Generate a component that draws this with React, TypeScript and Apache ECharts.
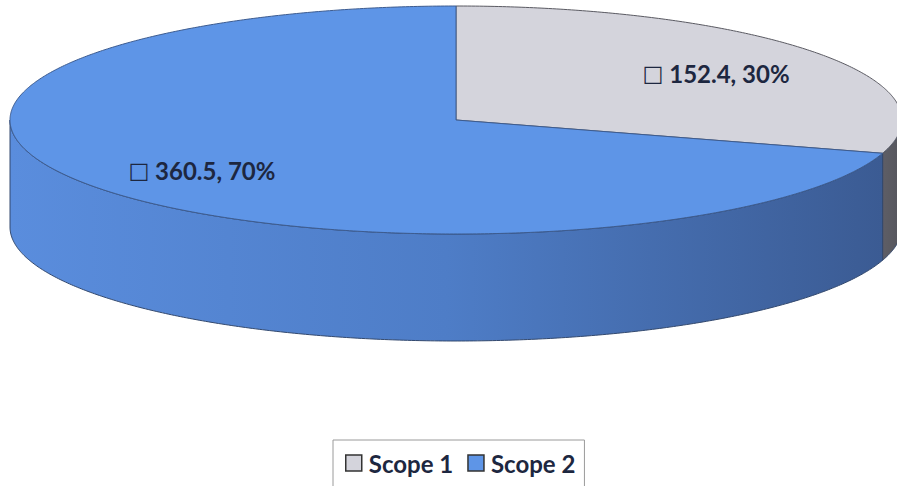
import React, { useEffect, useRef } from "react";
import * as echarts from "echarts";

const categories = ["Scope 1", "Scope 2"];
const values = [152.4, 360.5];
const topColors = ["#D4D4DC", "#5E95E7"];
const sideColors = [
  ["#5E5E66", "#55555C"],
  ["#5A8DDD", "#4E7DC7", "#3B5B93"],
];

const total = values.reduce((a, b) => a + b, 0);

export default function App() {
  const ref = useRef<HTMLDivElement>(null);
  useEffect(() => {
    if (!ref.current) return;
    const chart = echarts.init(ref.current, undefined, { renderer: "svg" });
    const CX = 456, CY = 120, RX = 446, RY = 114, DEPTH = 107;
    const pt = (deg: number, f = 1, dy = 0) => {
      const r = (deg * Math.PI) / 180;
      return [CX + RX * f * Math.sin(r), CY - RY * f * Math.cos(r) + dy];
    };
    const arc = (a0: number, a1: number, dy = 0) => {
      const pts: number[][] = [];
      const n = Math.max(2, Math.ceil(Math.abs(a1 - a0) / 0.5));
      for (let i = 0; i <= n; i++) pts.push(pt(a0 + ((a1 - a0) * i) / n, 1, dy));
      return pts;
    };
    const series = categories.map((name, idx) => {
      const before = values.slice(0, idx).reduce((a, b) => a + b, 0);
      return {
        type: "custom",
        name,
        coordinateSystem: "none",
        itemStyle: { color: topColors[idx] },
        data: [[values[idx]]],
        renderItem: (params: any, api: any) => {
          const v = api.value(0);
          const a0 = (before / total) * 360;
          const a1 = ((before + v) / total) * 360;
          const children: any[] = [];
          const s0 = Math.max(a0, 90), s1 = Math.min(a1, 270);
          if (s1 > s0) {
            const top = arc(s0, s1);
            const bot = arc(s0, s1, DEPTH).reverse();
            const cs = sideColors[idx];
            children.push({
              type: "polygon",
              shape: { points: top.concat(bot) },
              style: {
                fill: new echarts.graphic.LinearGradient(
                  0, 0, 1, 0,
                  cs.map((c, i) => ({ offset: i / (cs.length - 1), color: c }))
                ),
                stroke: "#33496e",
                lineWidth: 1,
              },
            });
          }
          const topPts = [[CX, CY]].concat(arc(a0, a1));
          children.push({
            type: "polygon",
            shape: { points: topPts },
            style: {
              fill: topColors[idx],
              stroke: idx === 0 ? "#5a5a62" : "#3d5c90",
              lineWidth: 1,
            },
          });
          const mid = (a0 + a1) / 2;
          const lp = pt(mid, 0.72);
          const pct = Math.round((v / total) * 100);
          children.push({
            type: "text",
            x: lp[0] + (idx === 1 ? 4 : 2),
            y: lp[1] + 2,
            style: {
              text: "{b|□} " + v.toFixed(1) + ", " + pct + "%",
              rich: {
                b: {
                  fontFamily: "DejaVu Sans",
                  fontWeight: "bold",
                  fontSize: 22,
                  fill: "#1d2740",
                },
              },
              fontFamily: "Lato",
              fontWeight: "bold",
              fontSize: 24,
              fill: "#1d2740",
              align: "center",
              verticalAlign: "middle",
            },
          });
          return { type: "group", children };
        },
      };
    });
    chart.setOption({
      animation: false,
      legend: {
        data: categories,
        top: 440,
        left: 333,
        orient: "horizontal",
        icon: "rect",
        itemWidth: 16,
        itemHeight: 16,
        itemGap: 14,
        padding: [11, 9, 14, 12],
        borderColor: "#9a9a9a",
        borderWidth: 1,
        itemStyle: { borderColor: "#333", borderWidth: 1.5 },
        textStyle: {
          fontFamily: "Lato",
          fontWeight: "bold",
          fontSize: 24,
          color: "#1d2740",
          padding: [0, 0, 0, 2],
        },
      },
      series,
    });
    return () => chart.dispose();
  }, []);
  return (
    <div
      ref={ref}
      style={{ position: "fixed", left: 0, top: 0, width: 897, height: 486, background: "#fff" }}
    />
  );
}
